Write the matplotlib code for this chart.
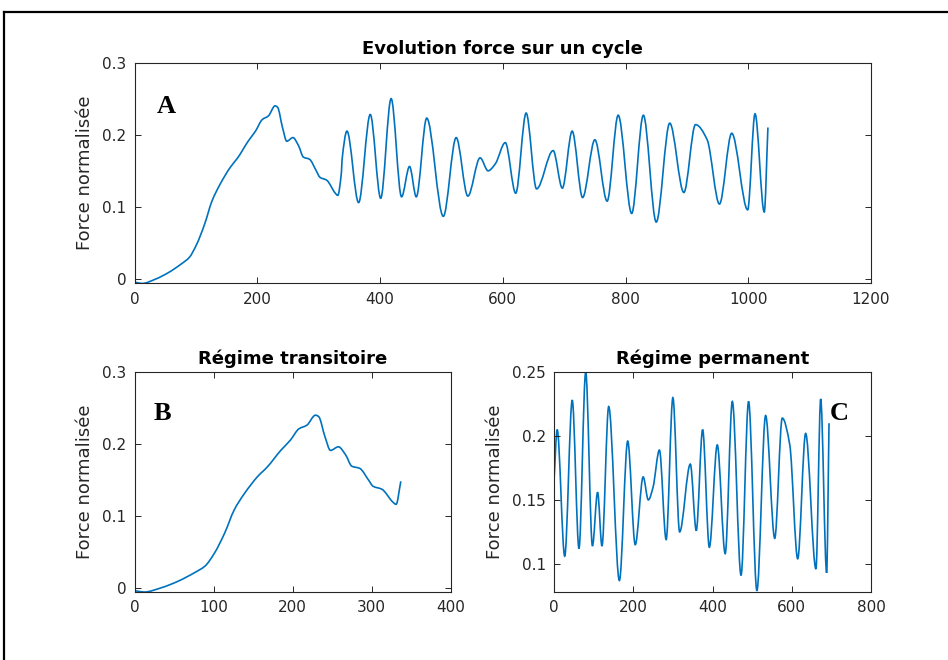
import numpy as np
import matplotlib.pyplot as plt
from matplotlib.lines import Line2D
from matplotlib.path import Path
from matplotlib.patches import PathPatch
from matplotlib.ticker import FuncFormatter

# regime transitoire
t_trans = [0, 12, 34, 55, 76, 89, 101, 114, 126, 139, 156, 168, 185, 197, 208,
           218, 229, 233, 241, 248, 258, 267, 275, 285, 296, 302, 313, 327, 331, 337]
f_trans = [-0.004, -0.006, 0.000, 0.009, 0.021, 0.030, 0.048, 0.076, 0.108, 0.131,
           0.155, 0.168, 0.191, 0.205, 0.221, 0.226, 0.240, 0.238, 0.210, 0.191,
           0.196, 0.185, 0.169, 0.166, 0.150, 0.141, 0.137, 0.119, 0.116, 0.148]

# regime permanent (local time)
t_perm = [0, 8, 27, 46, 63, 80, 97, 110, 121, 138, 165, 186, 205, 225, 238, 250,
          266, 283, 300, 317, 344, 359, 375, 392, 412, 432, 450, 472, 491, 512,
          534, 557, 576, 595, 615, 635, 661, 673, 688, 694]
f_perm = [0.165, 0.205, 0.106, 0.228, 0.112, 0.250, 0.114, 0.156, 0.114, 0.223,
          0.087, 0.196, 0.115, 0.168, 0.150, 0.160, 0.189, 0.119, 0.230, 0.125,
          0.178, 0.126, 0.205, 0.113, 0.193, 0.108, 0.227, 0.091, 0.227, 0.079,
          0.216, 0.120, 0.214, 0.193, 0.104, 0.202, 0.096, 0.229, 0.093, 0.210]

debut_perm = 338  # start of the permanent part in the full cycle

t_cycle = t_trans + [t + debut_perm for t in t_perm]
f_cycle = f_trans + f_perm

bleu = '#0072BD'
gris = '#262626'


def courbe(ax, x, y):
    # smooth drawing through the read points (bezier segments, flat at extrema)
    x = np.asarray(x, float)
    y = np.asarray(y, float)
    h = np.diff(x)
    d = np.diff(y) / h
    m = np.zeros(len(x))
    m[0], m[-1] = d[0], d[-1]
    for k in range(1, len(x) - 1):
        if d[k - 1] * d[k] > 0:
            m[k] = 2 / (1 / d[k - 1] + 1 / d[k])
    verts = [(x[0], y[0])]
    codes = [Path.MOVETO]
    for k in range(len(x) - 1):
        verts += [(x[k] + h[k] / 3, y[k] + m[k] * h[k] / 3),
                  (x[k + 1] - h[k] / 3, y[k + 1] - m[k + 1] * h[k] / 3),
                  (x[k + 1], y[k + 1])]
        codes += [Path.CURVE4] * 3
    ax.add_patch(PathPatch(Path(verts, codes), fill=False, edgecolor=bleu, lw=1.2))


fig = plt.figure(figsize=(9.48, 6.6), dpi=100)
fmt = FuncFormatter(lambda v, p: f'{v:g}')


def style(ax):
    ax.tick_params(direction='in', top=True, right=True, length=4, width=0.7,
                   colors=gris, labelsize=11, pad=6)
    for s in ax.spines.values():
        s.set_color(gris)
        s.set_linewidth(0.8)
    ax.xaxis.set_major_formatter(fmt)
    ax.yaxis.set_major_formatter(fmt)
    ax.set_ylabel('Force normalisée', fontsize=13, color=gris, labelpad=6)


ax1 = fig.add_axes([0.1420, 0.5705, 0.7768, 0.3348])
courbe(ax1, t_cycle, f_cycle)
ax1.set_xlim(0, 1200)
ax1.set_ylim(-0.006, 0.3)
ax1.set_xticks(np.arange(0, 1201, 200))
ax1.set_yticks([0, 0.1, 0.2, 0.3])
ax1.set_title('Evolution force sur un cycle', fontsize=13, fontweight='bold', color='black')
style(ax1)
ax1.text(0.043, 0.80, 'A', transform=ax1.transAxes, fontsize=19, fontweight='bold',
         family='Liberation Serif', ha='center', va='center')

ax2 = fig.add_axes([0.1420, 0.1030, 0.3333, 0.3333])
courbe(ax2, t_trans, f_trans)
ax2.set_xlim(0, 400)
ax2.set_ylim(-0.006, 0.3)
ax2.set_xticks(np.arange(0, 401, 100))
ax2.set_yticks([0, 0.1, 0.2, 0.3])
ax2.set_title('Régime transitoire', fontsize=13, fontweight='bold', color='black')
style(ax2)
ax2.text(0.087, 0.81, 'B', transform=ax2.transAxes, fontsize=19, fontweight='bold',
         family='Liberation Serif', ha='center', va='center')

ax3 = fig.add_axes([0.5844, 0.1030, 0.3344, 0.3333])
courbe(ax3, t_perm, f_perm)
ax3.set_xlim(0, 800)
ax3.set_ylim(0.078, 0.25)
ax3.set_xticks(np.arange(0, 801, 200))
ax3.set_yticks([0.1, 0.15, 0.2, 0.25])
ax3.set_title('Régime permanent', fontsize=13, fontweight='bold', color='black')
style(ax3)
ax3.text(0.899, 0.81, 'C', transform=ax3.transAxes, fontsize=19, fontweight='bold',
         family='Liberation Serif', ha='center', va='center')

# frame around the figure
y_haut = 1 - 12 / 660
x_gauche = 4 / 948
fig.add_artist(Line2D([x_gauche, x_gauche], [0, y_haut], color='black', lw=1.6,
                      transform=fig.transFigure))
fig.add_artist(Line2D([x_gauche, 1], [y_haut, y_haut], color='black', lw=1.6,
                      transform=fig.transFigure))

fig.savefig('out.png', dpi=100)
